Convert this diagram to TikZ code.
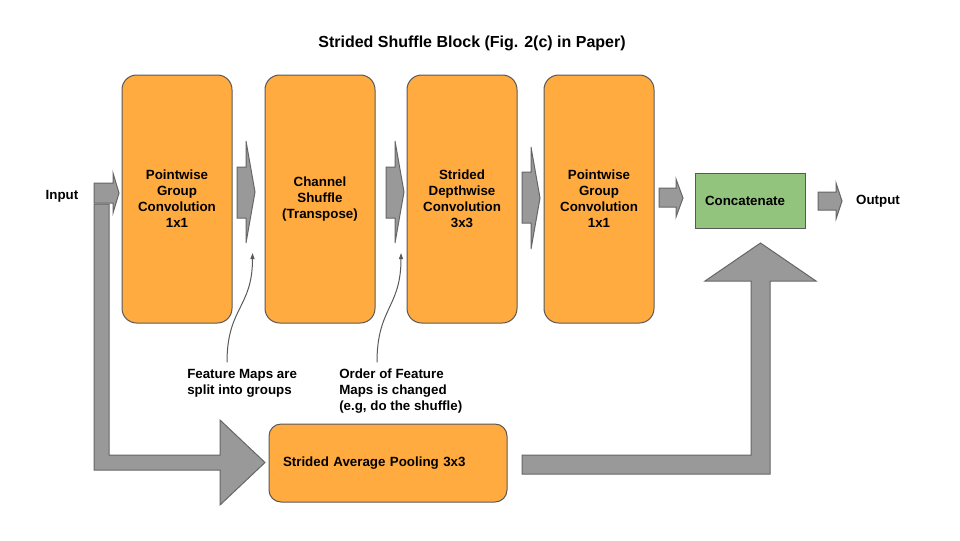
\documentclass[tikz,border=0pt]{standalone}
\usepackage{fontspec}
\setmainfont{Liberation Sans}
\usetikzlibrary{arrows.meta}
\definecolor{boxorange}{HTML}{FFAB40}
\definecolor{boxgreen}{HTML}{93C47D}
\definecolor{arrowgray}{HTML}{999999}
\definecolor{edgegray}{HTML}{595959}
\definecolor{arrowedge}{HTML}{666666}
\begin{document}
\begin{tikzpicture}[x=0.75pt,y=-0.75pt,
  every node/.style={font=\fontsize{10}{12}\selectfont\bfseries, text=black},
  tallbox/.style={draw=edgegray, fill=boxorange, line width=0.75pt, rounded corners=11pt,
    minimum width=82.5pt, minimum height=186pt, align=center, inner sep=0pt},
  concatbox/.style={draw=edgegray, fill=boxgreen, line width=0.75pt,
    text width=67.5pt, inner xsep=7.5pt, inner ysep=0pt, minimum height=41.25pt, align=left},
  poolbox/.style={draw=edgegray, fill=boxorange, line width=0.75pt, rounded corners=9pt,
    text width=157.5pt, inner xsep=10.5pt, inner ysep=0pt, minimum height=58.5pt, align=left},
  blockarrow/.style={fill=arrowgray, draw=arrowedge, line width=0.75pt, line join=miter},
  annot/.style={draw=edgegray, line width=0.75pt, -{Triangle[length=4.5pt,width=3pt]}},
  note/.style={align=left, inner sep=0pt},
  plain/.style={inner sep=0pt}
]
\useasboundingbox (0,0) rectangle (960,540);

% title
\node[plain, font=\fontsize{12}{14}\selectfont\bfseries] (title) at (472,43.5) {Strided Shuffle Block (Fig. 2(c) in Paper)};

% main boxes
\node[tallbox] (pgc1) at (177,199) {Pointwise\\Group\\Convolution\\1x1};
\node[tallbox] (shuf) at (320,199) {Channel\\Shuffle\\(Transpose)};
\node[tallbox] (dw) at (462,199) {Strided\\Depthwise\\Convolution\\3x3};
\node[tallbox] (pgc2) at (599,199) {Pointwise\\Group\\Convolution\\1x1};
\node[concatbox] (cat) at (750,200.5) {Concatenate};
\node[poolbox] (pool) at (388,463) {Strided Average Pooling 3x3};

% labels
\node[plain] (in) at (62,196) {Input};
\node[plain] (out) at (878,201) {Output};

% block arrows
\draw[blockarrow] (94,183) -- (113,183) -- (113,173) -- (119,193) -- (113,213) -- (113,203) -- (94,203) -- cycle;
\draw[blockarrow] (237,167) -- (246,167) -- (246,141) -- (255,192) -- (246,243) -- (246,218) -- (237,218) -- cycle;
\draw[blockarrow] (386,167) -- (395,167) -- (395,141) -- (404,192) -- (395,243) -- (395,218) -- (386,218) -- cycle;
\draw[blockarrow] (522,172) -- (531,172) -- (531,147) -- (540,198) -- (531,249) -- (531,223) -- (522,223) -- cycle;
\draw[blockarrow] (659,188) -- (676,188) -- (676,179) -- (683,198) -- (676,217) -- (676,207) -- (659,207) -- cycle;
\draw[blockarrow] (818,192) -- (836,192) -- (836,183) -- (842,201) -- (836,219) -- (836,210) -- (818,210) -- cycle;

% bent arrows
\draw[blockarrow] (94,204) -- (109,204) -- (109,455) -- (220,455) -- (220,420) -- (265,462.5) -- (220,505) -- (220,470) -- (94,470) -- cycle;
\draw[blockarrow] (522,455) -- (751,455) -- (751,281) -- (705,281) -- (760.5,243) -- (816,281) -- (770,281) -- (770,474) -- (522,474) -- cycle;

% notes
\node[note, anchor=north west] (n1) at (187,369) {Feature Maps are\\split into groups};
\node[note, anchor=north west] (n2) at (339,369) {Order of Feature\\Maps is changed\\(e.g, do the shuffle)};
\coordinate (t1) at (252.5,253);
\coordinate (t2) at (401,253);
\draw[annot] ([xshift=30pt,yshift=5pt]n1.north west) .. controls +(0,-55) and +(0,55) .. (t1);
\draw[annot] ([xshift=28.5pt,yshift=5pt]n2.north west) .. controls +(0,-55) and +(0,55) .. (t2);
\end{tikzpicture}
\end{document}
